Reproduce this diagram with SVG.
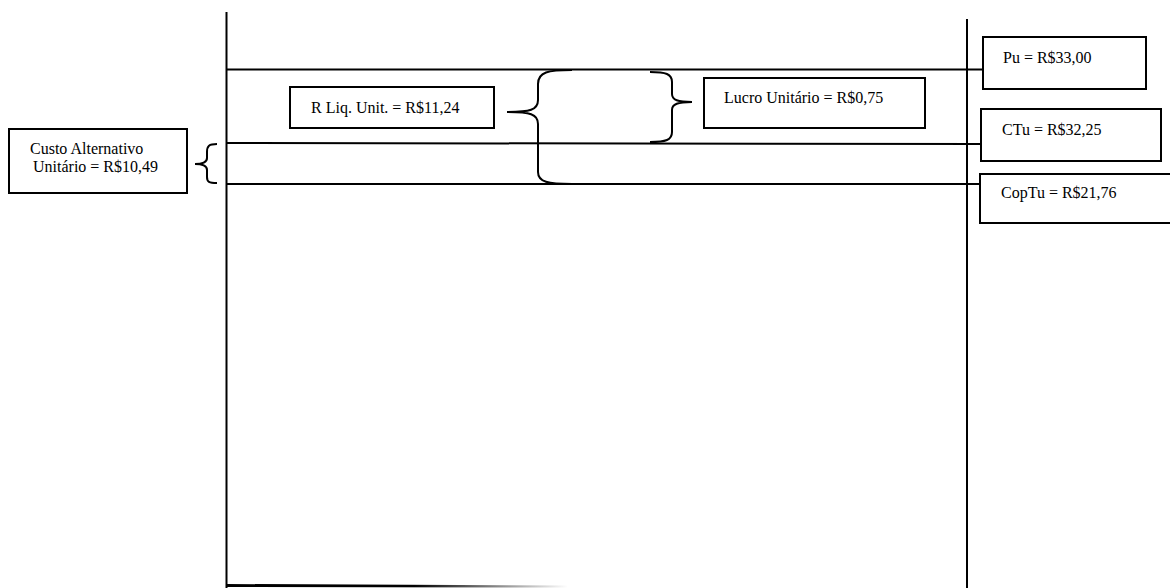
<svg xmlns="http://www.w3.org/2000/svg" width="1170" height="588" viewBox="0 0 1170 588">
<style>
  .ln { stroke: #000; stroke-width: 2; fill: none; }
  .box { fill: #fff; stroke: #000; stroke-width: 2; }
  .br { stroke: #000; stroke-width: 2; fill: none; }
  .t { font-family: "Liberation Serif", "Times New Roman", serif; font-size: 16px; fill: #000; }
</style>
<defs>
  <linearGradient id="fade" x1="0" y1="0" x2="1" y2="0">
    <stop offset="0" stop-color="#000"/>
    <stop offset="0.55" stop-color="#000"/>
    <stop offset="1" stop-color="#fff"/>
  </linearGradient>
</defs>
<rect width="1170" height="588" fill="#fff"/>
<g id="connectors">
  <line class="ln" x1="226.5" y1="12" x2="226.5" y2="588"/>
  <line class="ln" x1="967" y1="19" x2="967" y2="588"/>
  <line class="ln" x1="227" y1="69.5" x2="983" y2="69.5"/>
  <line class="ln" x1="227" y1="143" x2="980" y2="144"/>
  <line class="ln" x1="227" y1="184" x2="980" y2="184"/>
  <path d="M226 584 L568 585.5 L568 587.5 L226 587 Z" fill="url(#fade)"/>
  <path class="br" d="M572 70 C548 70 538 72 538 84 L538 100 C538 110 530 112 507 112 C530 112 538 114 538 124 L538 172 C538 182 548 184 572 184"/>
  <path class="br" d="M650 72 C666 72 672 74 672 82 L672 94 C672 100 678 102 692 102 C678 102 672 104 672 110 L672 132 C672 140 666 142 650 142"/>
  <path class="br" d="M217 144 C209 144 207 146 207 152 L207 158 C207 162 203 164 195 164 C203 164 207 166 207 170 L207 177 C207 182 209 183 217 183"/>
</g>
<g id="custo">
  <rect class="box" x="9" y="129" width="178" height="64"/>
  <text class="t" x="30" y="154">Custo Alternativo</text>
  <text class="t" x="33" y="172">Unitário = R$10,49</text>
</g>
<g id="rliq">
  <rect class="box" x="290" y="87" width="204" height="41"/>
  <text class="t" x="311" y="113">R Liq. Unit. = R$11,24</text>
</g>
<g id="lucro">
  <rect class="box" x="704" y="78" width="221" height="50"/>
  <text class="t" x="724" y="103">Lucro Unitário = R$0,75</text>
</g>
<g id="pu">
  <rect class="box" x="983" y="37" width="163" height="52"/>
  <text class="t" x="1003" y="63">Pu = R$33,00</text>
</g>
<g id="ctu">
  <rect class="box" x="981" y="109" width="180" height="52"/>
  <text class="t" x="1002" y="135">CTu = R$32,25</text>
</g>
<g id="coptu">
  <rect class="box" x="980" y="174" width="195" height="49"/>
  <text class="t" x="1001" y="198">CopTu = R$21,76</text>
</g>
</svg>
